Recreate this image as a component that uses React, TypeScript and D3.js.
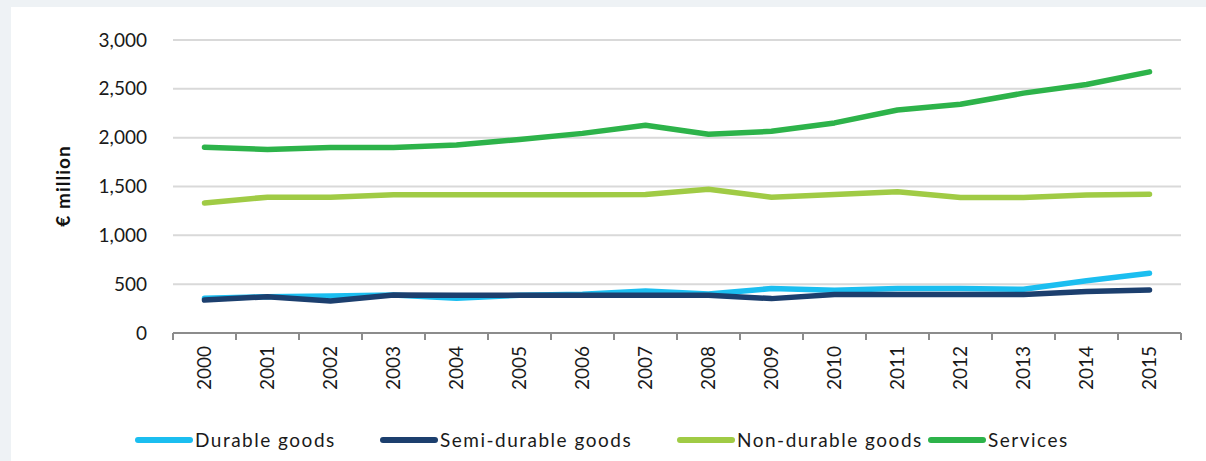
import React, { useEffect, useRef } from "react";
import * as d3 from "d3";

const years = ["2000","2001","2002","2003","2004","2005","2006","2007","2008","2009","2010","2011","2012","2013","2014","2015"];
const durable = [355, 372, 379, 389, 355, 386, 396, 430, 400, 455, 438, 455, 455, 448, 534, 611];
const semiDurable = [337, 372, 327, 389, 386, 386, 386, 386, 386, 352, 393, 393, 393, 393, 424, 441];
const nonDurable = [1332, 1391, 1391, 1415, 1415, 1415, 1415, 1419, 1471, 1391, 1419, 1446, 1388, 1388, 1412, 1420];
const services = [1903, 1880, 1900, 1900, 1925, 1982, 2044, 2128, 2034, 2065, 2151, 2283, 2342, 2456, 2545, 2674];
const yTicks = [0, 500, 1000, 1500, 2000, 2500, 3000];
const seriesNames = ["Durable goods", "Semi-durable goods", "Non-durable goods", "Services"];
const seriesColors = ["#1bbef0", "#1c3f6e", "#a0cb45", "#2db34a"];
const seriesValues = [durable, semiDurable, nonDurable, services];
const legendStarts = [136, 381, 678, 929];

const W = 1206;
const H = 461;
const FONT = "Lato, 'Open Sans', sans-serif";

export default function App() {
  const ref = useRef<SVGSVGElement | null>(null);

  useEffect(() => {
    const svg = d3.select(ref.current);
    svg.selectAll("*").remove();

    svg.append("rect").attr("x", 0).attr("y", 0).attr("width", W).attr("height", H).attr("fill", "#eef2f5");
    svg.append("rect").attr("x", 11).attr("y", 7).attr("width", W - 11).attr("height", H - 7).attr("fill", "#ffffff");

    const x = d3.scaleBand<string>().domain(years).range([173, 1181]);
    const y = d3.scaleLinear().domain([0, 3000]).range([333, 40]);

    // gridlines
    svg.append("g")
      .selectAll("line")
      .data(yTicks.filter((t) => t > 0))
      .join("line")
      .attr("x1", 173)
      .attr("x2", 1181)
      .attr("y1", (d) => y(d))
      .attr("y2", (d) => y(d))
      .attr("stroke", "#d9d9d9")
      .attr("stroke-width", 2);

    // y tick labels
    svg.append("g")
      .selectAll("text")
      .data(yTicks)
      .join("text")
      .attr("x", 147)
      .attr("y", (d) => y(d))
      .attr("dy", "0.35em")
      .attr("text-anchor", "end")
      .attr("font-family", FONT)
      .attr("font-size", 19)
      .attr("fill", "#1a1a1a")
      .text((d) => d3.format(",")(d));

    // y title
    svg.append("text")
      .attr("transform", `translate(70,186) rotate(-90)`)
      .attr("text-anchor", "middle")
      .attr("font-family", FONT)
      .attr("font-weight", "bold")
      .attr("font-size", 19)
      .attr("letter-spacing", 1)
      .attr("fill", "#111")
      .text("€ million");

    // lines
    const line = d3.line<number>()
      .x((_, i) => (x(years[i]) as number) + x.bandwidth() / 2)
      .y((d) => y(d));

    svg.append("g")
      .selectAll("path")
      .data(seriesValues)
      .join("path")
      .attr("d", (d) => line(d))
      .attr("fill", "none")
      .attr("stroke", (_, i) => seriesColors[i])
      .attr("stroke-width", 5.5)
      .attr("stroke-linecap", "round")
      .attr("stroke-linejoin", "round");

    // x axis
    const ax = svg.append("g");
    ax.append("line")
      .attr("x1", 173)
      .attr("x2", 1181)
      .attr("y1", y(0))
      .attr("y2", y(0))
      .attr("stroke", "#8c8c8c")
      .attr("stroke-width", 2);
    const boundaries = years.map((yr) => x(yr) as number).concat([1181]);
    ax.selectAll("line.tick")
      .data(boundaries)
      .join("line")
      .attr("class", "tick")
      .attr("x1", (d) => d)
      .attr("x2", (d) => d)
      .attr("y1", y(0))
      .attr("y2", y(0) + 7)
      .attr("stroke", "#8c8c8c")
      .attr("stroke-width", 2);
    ax.selectAll("text")
      .data(years)
      .join("text")
      .attr("transform", (d) => `translate(${(x(d) as number) + x.bandwidth() / 2},346) rotate(-90)`)
      .attr("dy", "0.35em")
      .attr("text-anchor", "end")
      .attr("font-family", FONT)
      .attr("font-size", 19)
      .attr("fill", "#1a1a1a")
      .text((d) => d);

    // legend
    const lg = svg.append("g")
      .selectAll("g")
      .data(seriesNames)
      .join("g")
      .attr("transform", (_, i) => `translate(${legendStarts[i]},440)`);
    lg.append("line")
      .attr("x1", 2)
      .attr("x2", 54)
      .attr("y1", 0)
      .attr("y2", 0)
      .attr("stroke", (_, i) => seriesColors[i])
      .attr("stroke-width", 6)
      .attr("stroke-linecap", "round");
    lg.append("text")
      .attr("x", 59)
      .attr("y", 0)
      .attr("dy", "0.35em")
      .attr("font-family", FONT)
      .attr("font-size", 19)
      .attr("letter-spacing", 1.5)
      .attr("fill", "#1a1a1a")
      .text((d) => d);
  }, []);

  return (
    <svg
      ref={ref}
      width={W}
      height={H}
      style={{ position: "absolute", left: 0, top: 0, display: "block" }}
    />
  );
}
